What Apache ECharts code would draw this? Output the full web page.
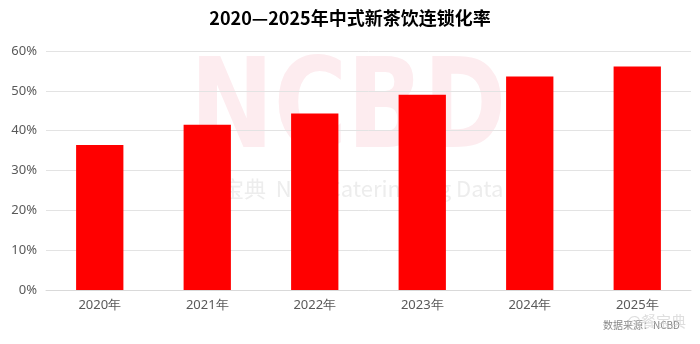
<!DOCTYPE html>
<html>
<head>
<meta charset="utf-8">
<script src="https://cdn.jsdelivr.net/npm/echarts@6/dist/echarts.min.js"></script>
<style>
  html, body { margin: 0; padding: 0; background: #fff; }
  #chart { width: 700px; height: 344px; }
</style>
</head>
<body>
<div id="chart"></div>
<script>
// 数据
const years = ['2020年', '2021年', '2022年', '2023年', '2024年', '2025年']
const chainRate = [36.4, 41.5, 44.3, 49.0, 53.6, 56.1]
const titleText = '2020—2025年中式新茶饮连锁化率'

const chart = echarts.init(document.getElementById('chart'))

const option = {
  animation: false,
  title: {
    text: titleText,
    left: 'center',
    top: 4,
    textStyle: {
      fontFamily: 'Noto Sans CJK SC',
      fontSize: 18,
      fontWeight: 'bold',
      color: '#000'
    }
  },
  graphic: [
    {
      type: 'text',
      x: 190,
      y: 115,
      scaleX: 0.8,
      z: -10,
      style: {
        text: 'NCBD',
        fontFamily: 'DejaVu Sans',
        fontSize: 125,
        fontWeight: 'bold',
        verticalAlign: 'middle',
        fill: '#fdecef'
      }
    },
    {
      type: 'text',
      left: 200,
      top: 178,
      z: -10,
      style: {
        text: '餐宝典  New Catering Big Data',
        fontFamily: 'Noto Sans CJK SC',
        fontSize: 22,
        fill: '#ededed'
      }
    },
    {
      type: 'text',
      right: 20,
      top: 320,
      style: {
        text: '数据来源：NCBD',
        fontFamily: 'Noto Sans CJK SC',
        fontSize: 10,
        fill: '#888'
      }
    },
    {
      type: 'text',
      right: 14,
      top: 314,
      style: {
        text: '@餐宝典',
        fontFamily: 'Noto Sans CJK SC',
        fontSize: 15,
        fill: 'rgba(200,200,200,0.6)'
      }
    }
  ],
  grid: {
    left: 46,
    right: 9,
    top: 51,
    bottom: 54
  },
  xAxis: {
    type: 'category',
    data: years,
    axisTick: { show: false },
    axisLine: { lineStyle: { color: '#d9d9d9' } },
    axisLabel: {
      color: '#595959',
      fontSize: 13,
      fontFamily: 'Noto Sans',
      margin: 9
    }
  },
  yAxis: {
    type: 'value',
    min: 0,
    max: 60,
    interval: 10,
    axisLabel: {
      formatter: '{value}%',
      color: '#595959',
      fontSize: 13,
      fontFamily: 'Noto Sans',
      margin: 9
    },
    splitLine: { lineStyle: { color: '#e3e3e3' } }
  },
  series: [
    {
      type: 'bar',
      data: chainRate,
      barWidth: '44%',
      itemStyle: { color: '#ff0000' }
    }
  ]
}

chart.setOption(option)
</script>
</body>
</html>
